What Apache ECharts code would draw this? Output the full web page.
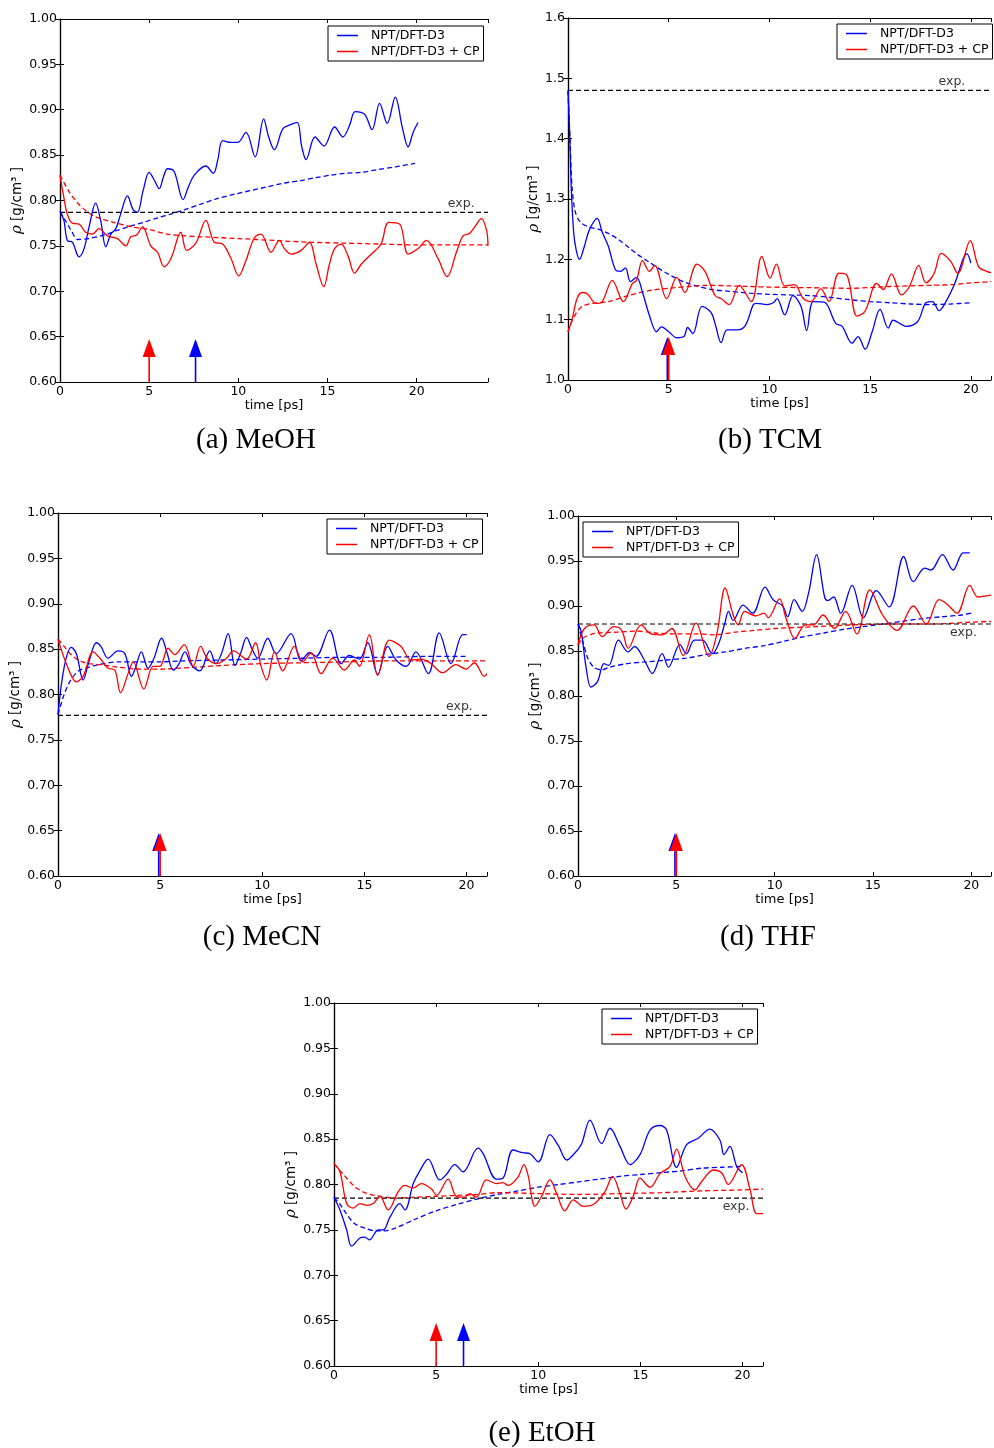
<!DOCTYPE html>
<html><head><meta charset="utf-8">
<script src="https://cdn.jsdelivr.net/npm/echarts@6.0.0/dist/echarts.min.js"></script>
<style>html,body{margin:0;padding:0;background:#fff}#c{width:994px;height:1448px}</style>
</head><body><div id="c"></div>
<script>
// ---------------- DATA ----------------
const seriesNames = ['NPT/DFT-D3', 'NPT/DFT-D3 + CP'];
const captions = ['(a) MeOH', '(b) TCM', '(c) MeCN', '(d) THF', '(e) EtOH'];
const expValues = [0.787, 1.48, 0.777, 0.880, 0.785];
// arrows: [time, which] which 0 = blue (NPT/DFT-D3), 1 = red (+CP)
const arrowsA = [[5.0, 1], [7.6, 0]];
const arrowsB = [[4.93, 0], [5.0, 1]];
const arrowsC = [[4.93, 0], [5.0, 1]];
const arrowsD = [[4.93, 0], [5.0, 1]];
const arrowsE = [[5.0, 1], [6.34, 0]];

// (a) MeOH
const aBlue = [[0,0.788],[0.22,0.778],[0.41,0.756],[0.69,0.754],[1.07,0.738],[1.35,0.747],[1.63,0.771],[2.0,0.797],[2.28,0.778],[2.57,0.749],[2.85,0.763],[3.13,0.769],[3.4,0.785],[3.78,0.805],[4.1,0.79],[4.34,0.787],[4.65,0.81],[5.0,0.831],[5.3,0.822],[5.56,0.813],[5.8,0.826],[6.03,0.835],[6.4,0.832],[6.9,0.801],[7.2,0.815],[7.53,0.828],[8.18,0.838],[8.6,0.830],[8.85,0.845],[9.12,0.866],[9.6,0.864],[9.96,0.864],[10.43,0.875],[10.94,0.848],[11.42,0.890],[11.7,0.87],[12.02,0.856],[12.49,0.879],[12.87,0.883],[13.3,0.886],[13.55,0.86],[13.8,0.845],[14.3,0.870],[14.8,0.860],[15.4,0.881],[15.86,0.870],[16.24,0.883],[16.55,0.898],[17.08,0.895],[17.5,0.878],[17.92,0.907],[18.35,0.885],[18.8,0.914],[19.2,0.88],[19.52,0.859],[19.8,0.875],[20.08,0.886]];
const aRed = [[0,0.828],[0.2,0.805],[0.41,0.785],[0.69,0.775],[1.07,0.774],[1.44,0.765],[1.82,0.763],[2.19,0.769],[2.66,0.761],[3.22,0.758],[3.69,0.750],[3.97,0.760],[4.3,0.762],[4.63,0.771],[5.09,0.750],[5.47,0.743],[5.84,0.727],[6.22,0.736],[6.78,0.765],[7.1,0.745],[7.62,0.753],[8.18,0.778],[8.65,0.754],[9.12,0.752],[9.59,0.736],[10.02,0.717],[10.43,0.734],[10.9,0.759],[11.27,0.763],[11.83,0.743],[12.3,0.756],[12.58,0.747],[12.96,0.741],[13.52,0.745],[13.99,0.754],[14.36,0.730],[14.79,0.705],[15.11,0.730],[15.4,0.747],[15.77,0.752],[16.15,0.739],[16.52,0.720],[16.9,0.730],[17.46,0.741],[18.0,0.752],[18.43,0.776],[19.05,0.774],[19.52,0.741],[20.08,0.747],[20.55,0.756],[21.2,0.736],[21.71,0.716],[22.23,0.743],[22.6,0.761],[22.98,0.764],[23.26,0.771],[23.63,0.780],[23.92,0.767],[24.0,0.75]];
const aBlueAvg = [[0,0.788],[0.3,0.778],[0.6,0.768],[1.0,0.757],[1.6,0.758],[2.5,0.762],[3.2,0.767],[4.0,0.772],[4.7,0.776],[5.5,0.781],[6.2,0.785],[7.0,0.790],[7.9,0.796],[8.8,0.802],[9.8,0.807],[10.7,0.811],[11.6,0.815],[12.5,0.819],[13.5,0.822],[14.3,0.825],[15.2,0.828],[16.0,0.830],[16.9,0.831],[17.8,0.834],[18.8,0.837],[19.9,0.841]];
const aRedAvg = [[0,0.828],[0.5,0.81],[1,0.797],[1.5,0.788],[2,0.782],[3,0.776],[4,0.771],[5,0.768],[6,0.763],[7,0.761],[8,0.760],[10,0.758],[12,0.756],[14,0.754],[16,0.753],[18,0.752],[20,0.751],[22,0.751],[24,0.751]];

// (b) TCM
const bBlue = [[0,1.48],[0.08,1.41],[0.16,1.32],[0.28,1.245],[0.41,1.215],[0.57,1.2],[0.8,1.22],[1.05,1.248],[1.45,1.268],[1.7,1.245],[2.0,1.222],[2.35,1.183],[2.6,1.18],[2.85,1.186],[3.1,1.163],[3.4,1.17],[3.7,1.145],[4.05,1.106],[4.4,1.08],[4.64,1.088],[5.0,1.08],[5.4,1.07],[5.75,1.072],[5.94,1.087],[6.2,1.077],[6.65,1.122],[7.1,1.112],[7.33,1.09],[7.6,1.062],[7.9,1.083],[8.39,1.083],[8.8,1.09],[9.2,1.125],[9.37,1.127],[9.86,1.125],[10.19,1.128],[10.38,1.135],[10.76,1.108],[11.17,1.140],[11.57,1.122],[11.85,1.082],[12.18,1.130],[12.72,1.129],[13.29,1.094],[13.61,1.089],[14.1,1.061],[14.4,1.072],[14.75,1.051],[15.1,1.08],[15.49,1.117],[15.9,1.086],[16.14,1.099],[16.79,1.089],[17.36,1.097],[17.77,1.128],[18.09,1.130],[18.42,1.115],[18.83,1.134],[19.2,1.16],[19.81,1.209],[20.0,1.194]];
const bRed = [[0,1.08],[0.2,1.1],[0.45,1.135],[0.7,1.145],[0.95,1.143],[1.4,1.127],[1.7,1.13],[2.2,1.165],[2.75,1.13],[3.2,1.16],[3.4,1.165],[3.7,1.198],[4.05,1.18],[4.3,1.19],[4.9,1.135],[5.4,1.17],[5.8,1.145],[6.4,1.192],[6.8,1.18],[7.3,1.14],[7.6,1.135],[8.0,1.125],[8.5,1.157],[9.1,1.13],[9.62,1.205],[10.03,1.169],[10.35,1.192],[10.76,1.156],[11.25,1.158],[11.66,1.136],[12.06,1.130],[12.55,1.151],[12.96,1.130],[13.45,1.177],[13.86,1.173],[14.35,1.106],[14.75,1.114],[15.32,1.160],[15.65,1.150],[16.06,1.176],[16.55,1.141],[16.95,1.155],[17.41,1.190],[17.77,1.161],[18.18,1.177],[18.53,1.210],[18.99,1.197],[19.35,1.177],[19.97,1.231],[20.38,1.188],[20.78,1.180],[21,1.178]];
const bBlueAvg = [[0,1.48],[0.1,1.40],[0.2,1.32],[0.35,1.28],[0.6,1.262],[1.0,1.254],[1.5,1.25],[2,1.243],[2.5,1.233],[3,1.22],[3.5,1.207],[4,1.196],[4.5,1.185],[5,1.175],[5.8,1.162],[6.5,1.155],[7.1,1.15],[8,1.147],[9,1.144],[10,1.142],[11,1.141],[12,1.14],[13,1.137],[14,1.133],[15,1.13],[16,1.128],[17,1.126],[18,1.125],[19,1.126],[20,1.128]];
const bRedAvg = [[0,1.08],[0.3,1.105],[0.7,1.122],[1.2,1.127],[2,1.13],[3,1.14],[4,1.148],[5,1.152],[6,1.155],[7,1.157],[8,1.156],[9,1.155],[10,1.154],[12,1.153],[14,1.152],[16,1.155],[18,1.157],[19,1.158],[20,1.161],[21,1.163]];

// (c) MeCN
const cBlue = [[0,0.778],[0.3,0.83],[0.65,0.852],[0.9,0.845],[1.23,0.816],[1.5,0.835],[1.88,0.857],[2.1,0.853],[2.45,0.840],[2.94,0.848],[3.27,0.845],[3.6,0.820],[3.8,0.83],[4.08,0.847],[4.41,0.829],[4.7,0.84],[5.07,0.862],[5.35,0.845],[5.64,0.827],[5.9,0.833],[6.21,0.847],[6.55,0.832],[6.94,0.826],[7.43,0.848],[7.73,0.834],[8.0,0.845],[8.33,0.867],[8.66,0.832],[8.95,0.846],[9.23,0.863],[9.5,0.85],[9.78,0.840],[10.27,0.862],[10.68,0.845],[11.41,0.867],[11.9,0.837],[12.31,0.846],[12.63,0.842],[13.29,0.871],[13.86,0.834],[14.26,0.843],[14.75,0.839],[15.16,0.857],[15.65,0.822],[16.14,0.853],[16.55,0.838],[17.04,0.831],[17.52,0.847],[18.13,0.823],[18.66,0.868],[19.24,0.834],[19.81,0.866],[20.0,0.866]];
const cRed = [[0,0.861],[0.41,0.834],[0.9,0.814],[1.23,0.820],[1.72,0.847],[2.12,0.838],[2.45,0.829],[2.78,0.827],[3.06,0.802],[3.43,0.823],[3.68,0.836],[4.2,0.806],[4.66,0.831],[4.98,0.831],[5.39,0.851],[5.72,0.844],[6.18,0.855],[6.62,0.831],[6.98,0.853],[7.3,0.840],[7.76,0.834],[8.25,0.840],[8.58,0.848],[9.23,0.839],[9.67,0.857],[9.94,0.831],[10.22,0.816],[10.6,0.847],[11.0,0.826],[11.57,0.853],[11.98,0.836],[12.39,0.846],[12.88,0.823],[13.45,0.840],[14.02,0.827],[14.51,0.838],[14.75,0.831],[15.24,0.866],[15.65,0.821],[16.22,0.860],[16.79,0.853],[17.28,0.838],[17.77,0.839],[18.26,0.834],[18.83,0.824],[19.48,0.833],[19.97,0.828],[20.38,0.835],[20.87,0.820],[21,0.823]];
const cBlueAvg = [[0,0.778],[0.3,0.80],[0.6,0.815],[1.0,0.826],[1.5,0.83],[2,0.833],[3,0.836],[4,0.836],[5,0.836],[6,0.837],[8,0.838],[10,0.839],[12,0.84],[14,0.841],[16,0.841],[18,0.842],[20,0.842]];
const cRedAvg = [[0,0.861],[0.3,0.853],[0.6,0.845],[1,0.838],[1.5,0.834],[2,0.833],[3,0.83],[4,0.828],[5,0.828],[6,0.829],[8,0.832],[10,0.834],[12,0.835],[14,0.836],[16,0.837],[18,0.837],[21,0.837]];

// (d) THF
const dBlue = [[0,0.88],[0.16,0.872],[0.41,0.832],[0.66,0.81],[0.99,0.816],[1.32,0.836],[1.56,0.834],[2.06,0.862],[2.55,0.849],[2.88,0.855],[3.37,0.840],[3.78,0.825],[4.28,0.847],[4.6,0.832],[5.18,0.857],[5.51,0.847],[5.92,0.862],[6.33,0.862],[6.83,0.847],[7.15,0.858],[7.48,0.882],[7.65,0.894],[7.89,0.884],[8.39,0.901],[8.88,0.892],[9.51,0.921],[9.92,0.907],[10.41,0.900],[10.66,0.888],[10.99,0.907],[11.4,0.894],[11.72,0.914],[12.13,0.957],[12.54,0.910],[12.7,0.906],[13.0,0.910],[13.36,0.892],[13.94,0.923],[14.51,0.887],[15.17,0.917],[15.82,0.899],[16.56,0.955],[17.05,0.927],[17.63,0.942],[17.95,0.94],[18.53,0.957],[19.07,0.940],[19.59,0.959],[19.92,0.959]];
const dRed = [[0,0.857],[0.33,0.875],[0.82,0.879],[1.23,0.866],[1.81,0.877],[2.22,0.873],[2.55,0.853],[3.21,0.879],[3.7,0.869],[4.28,0.868],[4.77,0.875],[5.35,0.845],[6.0,0.881],[6.66,0.844],[7.07,0.870],[7.48,0.920],[7.89,0.890],[8.14,0.879],[8.47,0.894],[9.05,0.889],[9.46,0.892],[9.67,0.887],[10.25,0.908],[10.58,0.886],[11.03,0.864],[11.56,0.879],[11.97,0.879],[12.46,0.890],[13.03,0.875],[13.61,0.894],[14.18,0.869],[14.84,0.918],[15.49,0.890],[16.23,0.873],[17.05,0.900],[17.71,0.880],[18.36,0.907],[18.77,0.902],[19.27,0.892],[19.92,0.923],[20.33,0.910],[21,0.912]];
const dBlueAvg = [[0,0.88],[0.25,0.86],[0.5,0.842],[0.8,0.832],[1.2,0.829],[1.6,0.832],[2.5,0.836],[3.5,0.838],[4.5,0.84],[5.5,0.842],[6.5,0.846],[7.5,0.849],[8.5,0.853],[9.5,0.856],[10.5,0.861],[11.5,0.866],[12.5,0.87],[13.5,0.874],[14.5,0.877],[15.5,0.88],[16.5,0.883],[17.5,0.886],[18.5,0.888],[19.5,0.89],[20,0.892]];
const dRedAvg = [[0,0.857],[0.3,0.865],[0.6,0.868],[1,0.87],[2,0.871],[3,0.872],[4,0.87],[5,0.869],[6,0.869],[7,0.868],[8,0.871],[9,0.873],[10,0.875],[12,0.877],[14,0.879],[16,0.88],[18,0.88],[20,0.882],[21,0.883]];

// (e) EtOH
const eBlue = [[0,0.786],[0.29,0.772],[0.62,0.750],[0.86,0.732],[1.27,0.741],[1.51,0.742],[1.73,0.739],[2.17,0.750],[2.41,0.750],[2.74,0.764],[3.22,0.779],[3.47,0.772],[3.88,0.801],[4.2,0.815],[4.61,0.828],[5.18,0.805],[5.5,0.811],[5.91,0.822],[6.32,0.814],[7.05,0.840],[7.3,0.834],[7.95,0.806],[8.27,0.807],[8.76,0.838],[9.25,0.835],[9.58,0.834],[10.0,0.825],[10.57,0.855],[10.98,0.843],[11.39,0.827],[11.8,0.835],[12.12,0.845],[12.53,0.871],[13.1,0.845],[13.51,0.862],[14.0,0.842],[14.49,0.822],[14.98,0.833],[15.47,0.860],[15.96,0.865],[16.28,0.860],[16.77,0.819],[17.26,0.844],[17.83,0.851],[18.4,0.861],[18.89,0.849],[19.09,0.833],[19.38,0.842],[19.71,0.820],[20.0,0.813]];
const eRed = [[0,0.823],[0.29,0.814],[0.62,0.779],[0.94,0.774],[1.27,0.779],[1.6,0.777],[1.92,0.779],[2.25,0.787],[2.65,0.772],[3.14,0.792],[3.47,0.799],[3.88,0.796],[4.28,0.801],[4.77,0.795],[5.02,0.788],[5.59,0.806],[5.99,0.787],[6.4,0.786],[6.64,0.790],[6.97,0.786],[7.46,0.805],[7.95,0.801],[8.27,0.802],[8.52,0.799],[9.0,0.808],[9.3,0.822],[9.5,0.81],[9.84,0.776],[10.16,0.787],[10.57,0.805],[10.9,0.790],[11.3,0.771],[11.71,0.783],[12.2,0.776],[12.69,0.778],[13.26,0.792],[13.64,0.809],[14.0,0.790],[14.29,0.773],[14.65,0.787],[14.98,0.807],[15.47,0.797],[15.96,0.812],[16.45,0.820],[16.77,0.839],[17.18,0.809],[17.67,0.794],[17.99,0.803],[18.57,0.816],[18.97,0.813],[19.3,0.800],[19.95,0.822],[20.36,0.795],[20.69,0.768],[21,0.768]];
const eBlueAvg = [[0,0.786],[0.3,0.778],[0.6,0.768],[1,0.757],[1.5,0.752],[2,0.749],[2.5,0.749],[3,0.752],[4,0.762],[5,0.771],[6,0.778],[7,0.784],[8,0.789],[9,0.793],[10,0.797],[11,0.8],[12,0.803],[13,0.806],[14,0.809],[15,0.811],[16,0.813],[17,0.815],[18,0.818],[19,0.819],[20,0.82]];
const eRedAvg = [[0,0.823],[0.5,0.81],[1,0.798],[1.5,0.791],[2,0.788],[3,0.785],[4,0.786],[5,0.787],[6,0.788],[7,0.789],[8,0.791],[10,0.79],[12,0.789],[14,0.79],[16,0.791],[18,0.793],[20,0.794],[21,0.795]];

// ---------------- LAYOUT ----------------
const FONT = 'DejaVu Sans';
const BLUE = '#0000ff', RED = '#ff0000';
const panels = [
  {blue:aBlue, red:aRed, blueAvg:aBlueAvg, redAvg:aRedAvg, arrows:arrowsA,
   grid:{left:60, top:19, width:428, height:363}, xMax:24, yMin:0.6, yMax:1.0, yStep:0.05, dec:2, nameGap:35,
   legend:{left:328, top:26}, cap:[256, 440], expT:22.5, expPos:'top'},
  {blue:bBlue, red:bRed, blueAvg:bBlueAvg, redAvg:bRedAvg, arrows:arrowsB,
   grid:{left:568, top:18, width:429.5, height:362}, xMax:21, yMin:1.0, yMax:1.6, yStep:0.1, dec:1, nameGap:25,
   legend:{left:837, top:24}, cap:[770, 440], expT:19.06, expPos:'top'},
  {blue:cBlue, red:cRed, blueAvg:cBlueAvg, redAvg:cRedAvg, arrows:arrowsC,
   grid:{left:58, top:513, width:429, height:363}, xMax:21, yMin:0.6, yMax:1.0, yStep:0.05, dec:2, nameGap:34,
   legend:{left:327, top:519}, cap:[262, 937], expT:19.65, expPos:'top'},
  {blue:dBlue, red:dRed, blueAvg:dBlueAvg, redAvg:dRedAvg, arrows:arrowsD,
   grid:{left:578, top:516, width:426.3, height:360}, xMax:21, yMin:0.6, yMax:1.0, yStep:0.05, dec:2, nameGap:35,
   legend:{left:583, top:522}, cap:[768, 937], expT:19.6, expPos:'bottom'},
  {blue:eBlue, red:eRed, blueAvg:eBlueAvg, redAvg:eRedAvg, arrows:arrowsE,
   grid:{left:334, top:1003, width:429, height:363}, xMax:21, yMin:0.6, yMax:1.0, yStep:0.05, dec:2, nameGap:35,
   legend:{left:602, top:1009}, cap:[542, 1433], expT:19.68, expPos:'bottom'}
];

const grids = [], xAxes = [], yAxes = [], series = [], legends = [], graphics = [];
const axLine = {show:true, lineStyle:{color:'#000', width:1.2}};
const axTick = {show:true, inside:true, length:4, lineStyle:{color:'#000', width:1}};

panels.forEach((p, i) => {
  grids.push(Object.assign({containLabel:false, show:false}, p.grid));
  const xb = {type:'value', gridIndex:i, min:0, max:p.xMax, interval:5,
    axisLine:axLine, axisTick:axTick, splitLine:{show:false},
    axisLabel:{color:'#000', fontFamily:FONT, fontSize:12.5, margin:3,
      formatter:v => (Math.abs(v % 5) < 1e-9 ? String(v) : '')},
    name:'time [ps]', nameLocation:'middle', nameGap:15,
    nameTextStyle:{color:'#000', fontFamily:FONT, fontSize:13}};
  const xt = {type:'value', gridIndex:i, position:'top', min:0, max:p.xMax, interval:5,
    axisLine:axLine, axisTick:axTick, splitLine:{show:false}, axisLabel:{show:false}};
  const yl = {type:'value', gridIndex:i, min:p.yMin, max:p.yMax, interval:p.yStep,
    axisLine:axLine, axisTick:axTick, splitLine:{show:false},
    axisLabel:{color:'#000', fontFamily:FONT, fontSize:12.5, margin:3, formatter:v => v.toFixed(p.dec)},
    name:'{r|ρ} [g/cm³ ]', nameLocation:'middle', nameGap:p.nameGap,
    nameTextStyle:{color:'#000', fontFamily:FONT, fontSize:13.5,
      rich:{r:{fontFamily:'DejaVu Serif', fontStyle:'italic', fontSize:15, color:'#000'}}}};
  const yr = {type:'value', gridIndex:i, position:'right', min:p.yMin, max:p.yMax, interval:p.yStep,
    axisLine:axLine, axisTick:axTick, splitLine:{show:false}, axisLabel:{show:false}};
  xAxes.push(xb, xt); yAxes.push(yl, yr);
  const xi = 2 * i, yi = 2 * i;
  const base = {xAxisIndex:xi, yAxisIndex:yi, showSymbol:false, symbol:'none', animation:false, silent:true};
  series.push(Object.assign({}, base, {type:'line', name:'avgBlue' + i, data:p.blueAvg, smooth:0.3,
    lineStyle:{color:BLUE, width:1.3, type:[5, 3]}, itemStyle:{color:BLUE}}));
  series.push(Object.assign({}, base, {type:'line', name:'avgRed' + i, data:p.redAvg, smooth:0.3,
    lineStyle:{color:RED, width:1.3, type:[5, 3]}, itemStyle:{color:RED}}));
  series.push(Object.assign({}, base, {type:'line', name:'exp' + i,
    data:[[0, expValues[i]], [p.xMax, expValues[i]]],
    lineStyle:{color:'#000', width:1.2, type:[5, 3]}, itemStyle:{color:'#000'}}));
  series.push(Object.assign({}, base, {type:'line', name:seriesNames[0], data:p.blue, smooth:0.35,
    lineStyle:{color:BLUE, width:1.3}, itemStyle:{color:BLUE}}));
  series.push(Object.assign({}, base, {type:'line', name:seriesNames[1], data:p.red, smooth:0.35,
    lineStyle:{color:RED, width:1.3}, itemStyle:{color:RED}}));
  series.push({type:'scatter', name:'expLabel' + i, xAxisIndex:xi, yAxisIndex:yi, silent:true, animation:false,
    symbolSize:0.01, itemStyle:{color:'rgba(0,0,0,0)'},
    data:[[p.expT, expValues[i]]],
    label:{show:true, position:p.expPos, distance:2, formatter:'exp.', color:'#000', fontFamily:FONT, fontSize:12.5}});
  p.arrows.forEach((a, k) => {
    series.push({type:'custom', name:'arrow' + i + '_' + k, xAxisIndex:xi, yAxisIndex:yi, silent:true, animation:false,
      itemStyle:{color:a[1] === 0 ? BLUE : RED}, clip:false,
      data:[[a[0], p.yMin]],
      renderItem:(params, api) => {
        const pt = api.coord([api.value(0), api.value(1)]);
        const col = api.visual('color');
        return {type:'group', children:[
          {type:'line', shape:{x1:pt[0], y1:pt[1], x2:pt[0], y2:pt[1] - 26}, style:{stroke:col, lineWidth:1.6}},
          {type:'polygon', shape:{points:[[pt[0] - 6.5, pt[1] - 25], [pt[0] + 6.5, pt[1] - 25], [pt[0], pt[1] - 43]]},
           style:{fill:col}}
        ]};
      }});
  });
  legends.push({show:true, left:p.legend.left, top:p.legend.top, orient:'vertical', data:seriesNames.slice(),
    selectedMode:false, icon:'rect', itemWidth:21, itemHeight:1.5, itemGap:3,
    borderColor:'#000', borderWidth:1, borderRadius:0, padding:[3, 4, 3, 9], backgroundColor:'#fff',
    formatter:'  {name}', textStyle:{color:'#000', fontFamily:FONT, fontSize:12.5}});
  graphics.push({type:'text', x:p.cap[0], y:p.cap[1], silent:true,
    style:{text:captions[i], fill:'#000', font:'29px "Liberation Serif"', textAlign:'center', textVerticalAlign:'middle'}});
});

const chart = echarts.init(document.getElementById('c'), null, {renderer:'canvas', width:994, height:1448});
chart.setOption({
  backgroundColor:'#fff', animation:false,
  grid:grids, xAxis:xAxes, yAxis:yAxes, legend:legends, series:series, graphic:graphics
});
</script></body></html>
